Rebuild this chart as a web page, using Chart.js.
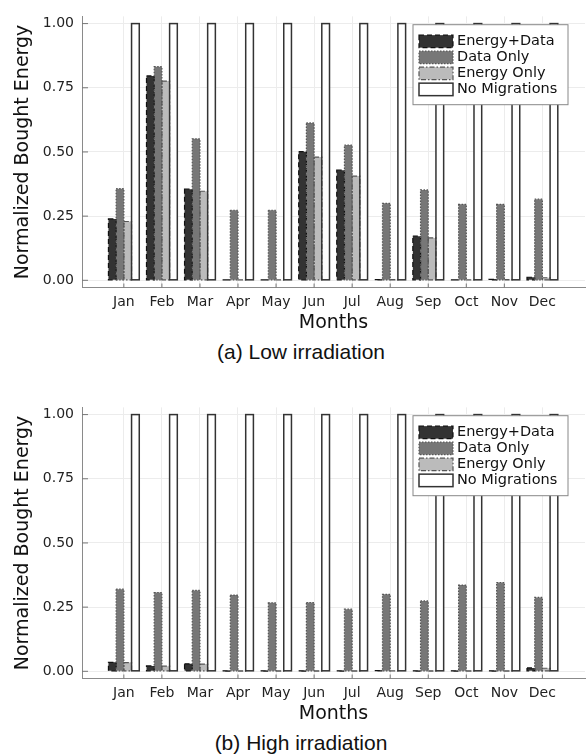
<!DOCTYPE html>
<html>
<head>
<meta charset="utf-8">
<script src="https://cdn.jsdelivr.net/npm/chart.js@4.4.1/dist/chart.umd.min.js"></script>
<style>
  html, body { margin: 0; padding: 0; background: #fff; width: 587px; height: 756px; overflow: hidden; }
  .box { position: absolute; left: 0; width: 587px; height: 340px; }
  .cap { position: absolute; left: 0; width: 602px; text-align: center; font-family: 'Liberation Sans', Arial, sans-serif;
         font-size: 21px; line-height: 24px; color: #111; }
</style>
</head>
<body>
<div class="box" style="top:0px"><canvas id="low"></canvas></div>
<div class="cap" style="top:340px">(a) Low irradiation</div>
<div class="box" style="top:391px"><canvas id="high"></canvas></div>
<div class="cap" style="top:731px">(b) High irradiation</div>

<script>
const months = ['Jan', 'Feb', 'Mar', 'Apr', 'May', 'Jun', 'Jul', 'Aug', 'Sep', 'Oct', 'Nov', 'Dec'];
const seriesLabels = ['Energy+Data', 'Data Only', 'Energy Only', 'No Migrations'];
const yTicks = [0, 0.25, 0.5, 0.75, 1.0];

// (a) low irradiation
const lowEnergyData = [0.239, 0.796, 0.355, 0.002, 0.002, 0.501, 0.429, 0.003, 0.172, 0.002, 0.004, 0.012];
const lowDataOnly   = [0.357, 0.832, 0.551, 0.273, 0.273, 0.613, 0.527, 0.300, 0.352, 0.296, 0.296, 0.316];
const lowEnergyOnly = [0.229, 0.776, 0.347, 0.002, 0.002, 0.480, 0.406, 0.003, 0.165, 0.002, 0.003, 0.010];
const lowNoMigr     = [1, 1, 1, 1, 1, 1, 1, 1, 1, 1, 1, 1];

// (b) high irradiation
const highEnergyData = [0.035, 0.021, 0.029, 0.001, 0.001, 0.001, 0.001, 0.003, 0.001, 0.001, 0.001, 0.013];
const highDataOnly   = [0.320, 0.307, 0.315, 0.297, 0.267, 0.268, 0.242, 0.300, 0.274, 0.336, 0.346, 0.288];
const highEnergyOnly = [0.034, 0.020, 0.028, 0.001, 0.001, 0.001, 0.001, 0.002, 0.001, 0.001, 0.001, 0.012];
const highNoMigr     = [1, 1, 1, 1, 1, 1, 1, 1, 1, 1, 1, 1];

const barStyles = [
  { fill: '#333333', stroke: '#111111', dash: [5, 3], width: 1.2 },
  { fill: '#777777', stroke: '#555555', dash: [1.5, 1.5], width: 1.2 },
  { fill: '#bbbbbb', stroke: '#555555', dash: [5, 2, 1.5, 2], width: 1.2 },
  { fill: '#ffffff', stroke: '#333333', dash: [], width: 1.5 }
];

const font = 'DejaVu Sans';

// dashed bar outlines, inward tick marks and the boxed legend
const decorPlugin = {
  id: 'decor',
  afterDatasetsDraw(chart) {
    const ctx = chart.ctx;
    const area = chart.chartArea;
    ctx.save();
    chart.data.datasets.forEach((ds, k) => {
      const st = barStyles[k];
      chart.getDatasetMeta(k).data.forEach(bar => {
        const { x, y, base, width } = bar.getProps(['x', 'y', 'base', 'width'], true);
        ctx.setLineDash(st.dash);
        ctx.lineWidth = st.width;
        ctx.strokeStyle = st.stroke;
        ctx.strokeRect(x - width / 2, Math.min(y, base), width, Math.abs(base - y));
      });
    });

    ctx.setLineDash([]);
    ctx.strokeStyle = '#777';
    ctx.lineWidth = 1;
    chart.scales.x.ticks.forEach(t => {
      const px = chart.scales.x.getPixelForValue(t.value);
      ctx.beginPath(); ctx.moveTo(px, area.bottom); ctx.lineTo(px, area.bottom - 4); ctx.stroke();
    });
    chart.scales.y.ticks.forEach(t => {
      const py = chart.scales.y.getPixelForValue(t.value);
      ctx.beginPath(); ctx.moveTo(area.left, py); ctx.lineTo(area.left + 6, py); ctx.stroke();
    });

    // legend
    const lx = area.right - 172, ly = area.top + 8.3;
    ctx.fillStyle = '#fff';
    ctx.fillRect(lx, ly, 155, 80);
    ctx.strokeStyle = '#888';
    ctx.strokeRect(lx, ly, 155, 80);
    ctx.font = '14.5px "' + font + '"';
    ctx.textBaseline = 'middle';
    chart.data.datasets.forEach((ds, k) => {
      const st = barStyles[k];
      const cy = ly + 16.7 + 16 * k;
      ctx.fillStyle = st.fill;
      ctx.fillRect(lx + 6, cy - 6.25, 34, 12.5);
      ctx.setLineDash(st.dash);
      ctx.lineWidth = st.width;
      ctx.strokeStyle = st.stroke;
      ctx.strokeRect(lx + 6, cy - 6.25, 34, 12.5);
      ctx.setLineDash([]);
      ctx.fillStyle = '#111';
      ctx.fillText(ds.label, lx + 44, cy);
    });
    ctx.restore();
  }
};

function makeChart(id, energyData, dataOnly, energyOnly, noMigr) {
  const series = [energyData, dataOnly, energyOnly, noMigr];
  return new Chart(document.getElementById(id), {
    type: 'bar',
    data: {
      datasets: series.map((vals, k) => ({
        label: seriesLabels[k],
        data: vals.map((v, i) => ({ x: i, y: v })),
        backgroundColor: barStyles[k].fill,
        borderWidth: 0
      }))
    },
    options: {
      animation: false,
      responsive: true,
      maintainAspectRatio: false,
      layout: { padding: { top: 6.7, right: 2, left: 0, bottom: 0 } },
      datasets: { bar: { categoryPercentage: 0.81, barPercentage: 1 } },
      plugins: { legend: { display: false }, tooltip: { enabled: false } },
      scales: {
        x: {
          type: 'linear',
          offset: false,
          min: -1.1,
          max: 12.12,
          afterBuildTicks: s => { s.ticks = months.map((m, i) => ({ value: i })); },
          afterFit: s => { s.height = 52.5; },
          grid: { color: '#ececec', drawTicks: false, offset: false },
          border: { color: '#8a8a8a' },
          ticks: { padding: 6, color: '#222', font: { family: font, size: 14 }, callback: v => months[v] ?? '' },
          title: { display: true, text: 'Months', color: '#111', font: { family: font, size: 19 }, padding: { top: 0, bottom: 5.6 } }
        },
        y: {
          min: -0.028,
          max: 1.028,
          afterBuildTicks: s => { s.ticks = yTicks.map(v => ({ value: v })); },
          afterFit: s => { s.width = 82; },
          grid: { color: '#ececec', drawTicks: false },
          border: { color: '#8a8a8a' },
          ticks: { padding: 8, color: '#222', font: { family: font, size: 14 }, callback: v => v.toFixed(2) },
          title: { display: true, text: 'Normalized Bought Energy', color: '#111', font: { family: font, size: 19 }, padding: { top: 12, bottom: 0 } }
        }
      }
    },
    plugins: [decorPlugin]
  });
}

makeChart('low', lowEnergyData, lowDataOnly, lowEnergyOnly, lowNoMigr);
makeChart('high', highEnergyData, highDataOnly, highEnergyOnly, highNoMigr);
</script>
</body>
</html>
